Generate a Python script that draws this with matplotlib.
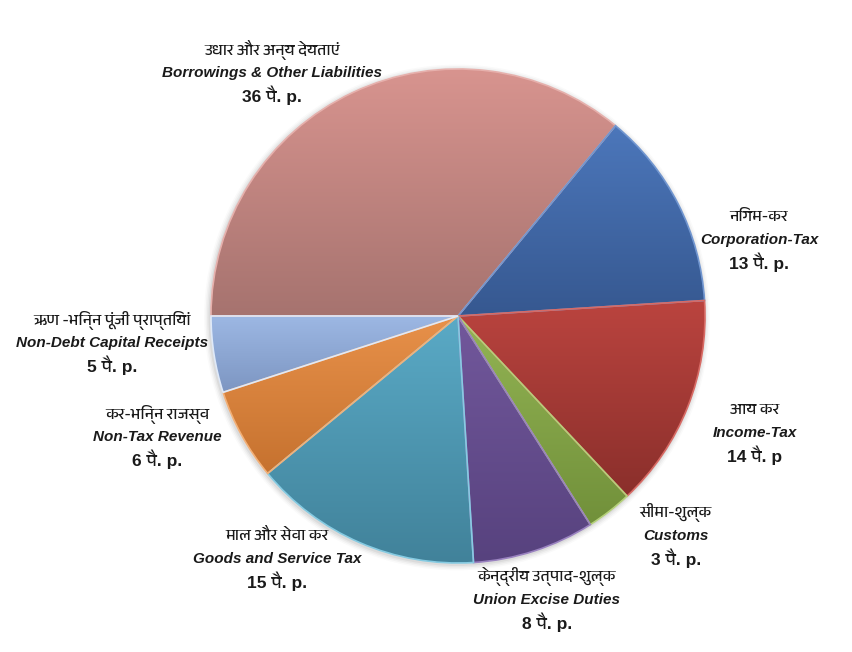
import matplotlib
matplotlib.use('Agg')
import matplotlib.pyplot as plt
from matplotlib import font_manager
from matplotlib.colors import LinearSegmentedColormap
from matplotlib.patches import Circle
import numpy as np

# ---------------- data ----------------
hindi_labels = ['उधार और अन्य देयताएं', 'निगम-कर', 'आय कर', 'सीमा-शुल्क',
                'केन्द्रीय उत्पाद-शुल्क', 'माल और सेवा कर', 'कर-भिन्न राजस्व',
                'ऋण -भिन्न पूंजी प्राप्तियां']
english_labels = ['Borrowings & Other Liabilities', 'Corporation-Tax', 'Income-Tax',
                  'Customs', 'Union Excise Duties', 'Goods and Service Tax',
                  'Non-Tax Revenue', 'Non-Debt Capital Receipts']
values = [36, 13, 14, 3, 8, 15, 6, 5]
unit_suffix = ['पै. p.', 'पै. p.', 'पै. p', 'पै. p.', 'पै. p.', 'पै. p.', 'पै. p.', 'पै. p.']

# ---------------- style ----------------
top_colors = ['#d8948f', '#4c77bb', '#bb443f', '#93b454', '#72589c', '#5aaac6', '#e8914a', '#9db8e4']
bot_colors = ['#a6736f', '#365890', '#8a2f2b', '#71903a', '#57427e', '#41829a', '#c6722f', '#7d96c2']
edge_colors = ['#e6b0ac', '#7196d0', '#d86a64', '#b4d07a', '#9a82c0', '#86cbe2', '#f3b077', '#dfe9f8']

# label block centres in pixels (x, y of the middle line)
label_px = [(272, 73), (759, 240), (755, 433), (676, 536), (547, 600),
            (277, 559), (157, 437), (112, 343)]

# ---------------- fonts ----------------
def find_deva_family():
    try:
        from fontTools.ttLib import TTFont
    except Exception:
        return None
    found = []
    for f in font_manager.fontManager.ttflist:
        try:
            tt = TTFont(f.fname, fontNumber=0, lazy=True)
            cmap = tt.getBestCmap()
            if cmap and 0x0915 in cmap:
                found.append(f.name)
        except Exception:
            pass
    if not found:
        return None
    for pref in ['Devanagari', 'Lohit', 'Mukta', 'Hind', 'Mangal']:
        for n in found:
            if pref in n:
                return n
    return found[0]

deva = find_deva_family()
hindi_family = [deva, 'DejaVu Sans'] if deva else ['DejaVu Sans']
latin_family = ['Liberation Sans', deva, 'DejaVu Sans'] if deva else ['Liberation Sans', 'DejaVu Sans']

# ---------------- figure ----------------
W, H = 852, 652
CX, CY, R = 458, 316, 247
fig = plt.figure(figsize=(W / 100, H / 100), dpi=100)
ax = fig.add_axes([0, 0, 1, 1])

def px(x, y):
    return (x - CX) / R, (CY - y) / R

# soft shadow
for i, a in enumerate([0.05, 0.04, 0.03, 0.02]):
    ax.add_patch(Circle((-0.004, -0.006), 1.0 + 0.006 * (i + 1), facecolor='#000000',
                        alpha=a, edgecolor='none', zorder=0))

wedges, _ = ax.pie(values, startangle=180, counterclock=False, radius=1.0,
                   center=(0, 0), wedgeprops=dict(linewidth=1.2))

for w, tc, bc, ec in zip(wedges, top_colors, bot_colors, edge_colors):
    bb = w.get_path().get_extents(w.get_patch_transform())
    cmap = LinearSegmentedColormap.from_list('g', [tc, bc])
    grad = np.linspace(0, 1, 256).reshape(-1, 1)
    im = ax.imshow(grad, extent=[bb.x0, bb.x1, bb.y0, bb.y1], origin='upper',
                   cmap=cmap, aspect='auto', zorder=2, interpolation='bicubic')
    im.set_clip_path(w)
    w.set_facecolor('none')
    w.set_edgecolor(ec)
    w.set_zorder(3)

# labels
for (lx, ly), hl, el, v, suf in zip(label_px, hindi_labels, english_labels, values, unit_suffix):
    x, y1 = px(lx, ly - 23)
    ax.text(x, y1, hl, family=hindi_family, fontsize=11.5, ha='center', va='center',
            color='#1a1a1a')
    x, y2 = px(lx, ly)
    ax.text(x, y2, el, family=['Liberation Sans', 'DejaVu Sans'], fontsize=11,
            fontweight='bold', fontstyle='italic', ha='center', va='center', color='#1a1a1a')
    x, y3 = px(lx, ly + 22)
    ax.text(x, y3, f'{v} {suf}', family=latin_family, fontsize=12.5, fontweight='bold',
            ha='center', va='center', color='#1a1a1a')

ax.set_xlim(-CX / R, (W - CX) / R)
ax.set_ylim(-(H - CY) / R, CY / R)
ax.set_aspect('auto')
ax.axis('off')
fig.savefig('out.png', dpi=100, facecolor='white')
